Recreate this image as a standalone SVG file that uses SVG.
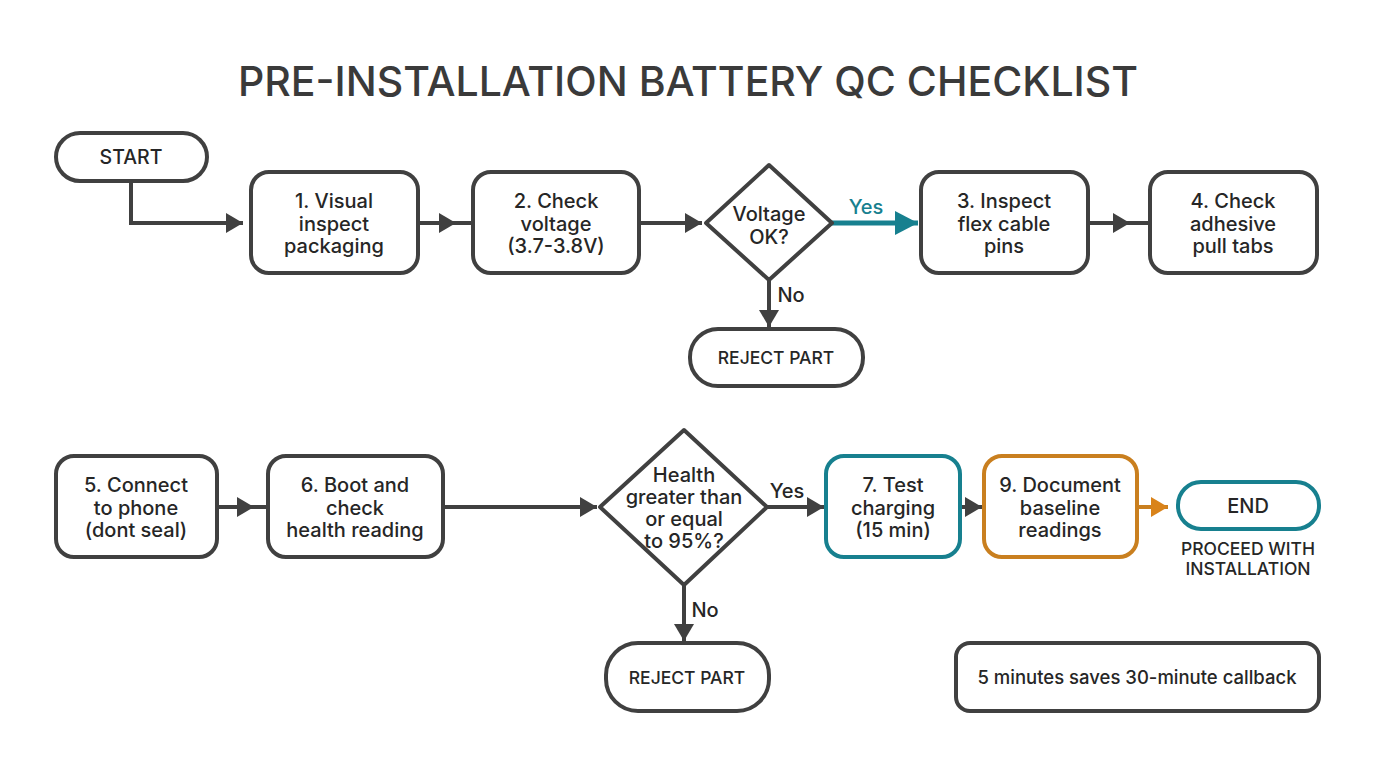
<svg xmlns="http://www.w3.org/2000/svg" width="1376" height="768" viewBox="0 0 1376 768">
<defs>
<marker id="a" markerUnits="userSpaceOnUse" markerWidth="20" markerHeight="22" refX="17" refY="11" orient="auto"><path d="M0 1L17 11L0 21Z" fill="#404040"/></marker>
<marker id="at" markerUnits="userSpaceOnUse" markerWidth="24" markerHeight="26" refX="23" refY="13" orient="auto"><path d="M0 1L23 13L0 25Z" fill="#17808f"/></marker>
<marker id="ao" markerUnits="userSpaceOnUse" markerWidth="20" markerHeight="22" refX="17" refY="11" orient="auto"><path d="M0 1L17 11L0 21Z" fill="#d9831a"/></marker>
</defs>
<style>
text{font-family:Inter,"Liberation Sans",sans-serif;font-size:20px;font-weight:500;fill:#262626;text-anchor:middle}
.n{fill:#fff;stroke:#404040;stroke-width:4}
.c{fill:none;stroke:#404040;stroke-width:4}
.t{stroke:#17808f}
.o{stroke:#c97f1f}
.small{font-size:17.5px}
</style>
<rect width="1376" height="768" fill="#fff"/>
<text id="title" x="688" y="96" style="font-size:41px;font-weight:500;fill:#3a3a3a">PRE-INSTALLATION BATTERY QC CHECKLIST</text>
<g id="connectors">
<path class="c" d="M131 181V223H243" marker-end="url(#a)"/>
<path class="c" d="M418 223H456H473" marker-mid="url(#a)"/>
<path class="c" d="M639 223H702" marker-end="url(#a)"/>
<path class="c" style="stroke:#17808f;stroke-width:5" d="M832 223H918" marker-end="url(#at)"/>
<path class="c" d="M1088 223H1130H1150" marker-mid="url(#a)"/>
<path class="c" d="M769 280V327" marker-end="url(#a)"/>
<path class="c" d="M217 507H254H268" marker-mid="url(#a)"/>
<path class="c" d="M443 507H597" marker-end="url(#a)"/>
<path class="c" d="M767 507H824" marker-end="url(#a)"/>
<path class="c" d="M960 507H982" marker-end="url(#a)"/>
<path class="c o" d="M1137 507H1168" marker-end="url(#ao)"/>
<path class="c" d="M684 585V641" marker-end="url(#a)"/>
<text x="866" y="214" style="fill:#17808f">Yes</text>
<text x="791" y="302">No</text>
<text x="787" y="498">Yes</text>
<text x="705" y="617">No</text>
</g>
<g id="start"><rect class="n" x="56" y="133" width="151" height="48" rx="24"/><text x="131" y="164" style="font-size:19.5px">START</text></g>
<g id="step1"><rect class="n" x="251" y="172" width="167" height="101" rx="18"/><text x="334" y="208">1. Visual</text><text x="334" y="231">inspect</text><text x="334" y="253">packaging</text></g>
<g id="step2"><rect class="n" x="473" y="172" width="166" height="101" rx="18"/><text x="556" y="208">2. Check</text><text x="556" y="231">voltage</text><text x="556" y="253">(3.7-3.8V)</text></g>
<g id="voltage-ok"><path class="n" stroke-linejoin="round" d="M769 165L832 223L769 280L706 223Z"/><text x="769" y="221">Voltage</text><text x="769" y="244">OK?</text></g>
<g id="step3"><rect class="n" x="921" y="172" width="167" height="101" rx="18"/><text x="1004" y="208">3. Inspect</text><text x="1004" y="231">flex cable</text><text x="1004" y="253">pins</text></g>
<g id="step4"><rect class="n" x="1150" y="172" width="167" height="101" rx="18"/><text x="1233" y="208">4. Check</text><text x="1233" y="231">adhesive</text><text x="1233" y="253">pull tabs</text></g>
<g id="reject1"><rect class="n" x="690" y="329" width="173" height="57" rx="28"/><text class="small" x="776" y="364">REJECT PART</text></g>
<g id="step5"><rect class="n" x="56" y="456" width="161" height="101" rx="18"/><text x="136" y="492">5. Connect</text><text x="136" y="515">to phone</text><text x="136" y="537">(dont seal)</text></g>
<g id="step6"><rect class="n" x="268" y="456" width="175" height="101" rx="18"/><text x="355" y="492">6. Boot and</text><text x="355" y="515">check</text><text x="355" y="537">health reading</text></g>
<g id="health"><path class="n" stroke-linejoin="round" d="M684 430L767 507L684 585L600 507Z"/><text x="684" y="482">Health</text><text x="684" y="504">greater than</text><text x="684" y="526">or equal</text><text x="684" y="548">to 95%?</text></g>
<g id="step7"><rect class="n t" x="826" y="456" width="134" height="101" rx="18"/><text x="893" y="492">7. Test</text><text x="893" y="515">charging</text><text x="893" y="537">(15 min)</text></g>
<g id="step9"><rect class="n o" x="984" y="456" width="153" height="101" rx="18"/><text x="1060" y="492">9. Document</text><text x="1060" y="515">baseline</text><text x="1060" y="537">readings</text></g>
<g id="end"><rect class="n t" x="1178" y="482" width="141" height="47" rx="23"/><text x="1248" y="513">END</text><text class="small" x="1248" y="555">PROCEED WITH</text><text class="small" x="1248" y="575">INSTALLATION</text></g>
<g id="reject2"><rect class="n" x="606" y="643" width="163" height="68" rx="32"/><text class="small" x="687" y="684">REJECT PART</text></g>
<g id="note"><rect class="n" x="956" y="643" width="363" height="68" rx="14"/><text x="1137" y="684" style="font-size:18.5px">5 minutes saves 30-minute callback</text></g>
</svg>
